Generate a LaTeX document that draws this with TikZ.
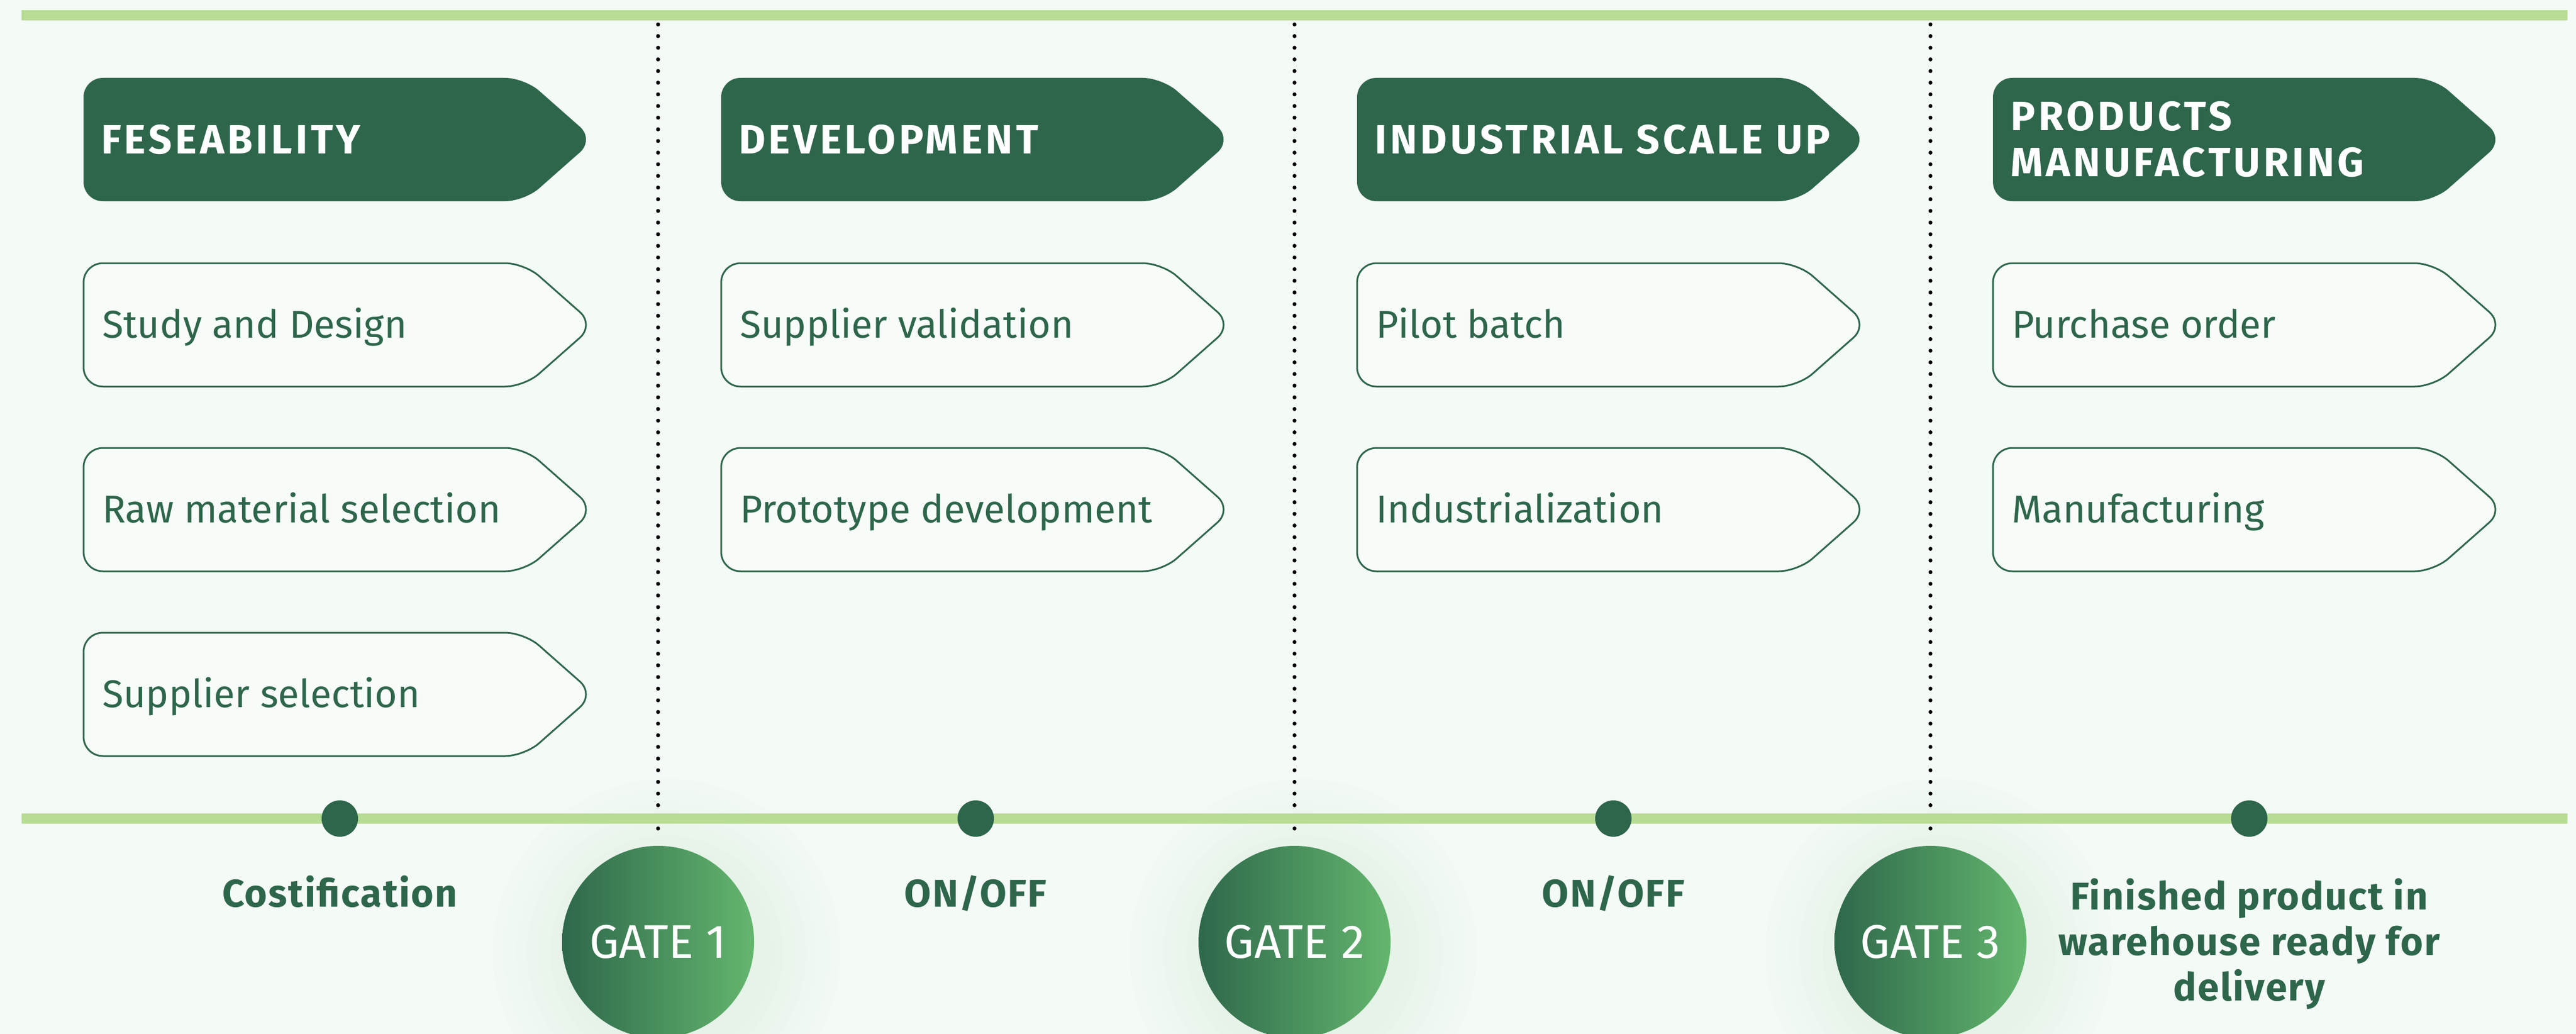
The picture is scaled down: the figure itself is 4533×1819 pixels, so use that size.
\documentclass[tikz,border=0pt]{standalone}
\usepackage{fontspec}
\setmainfont{Fira Sans}
\definecolor{bg}{RGB}{244,250,246}
\definecolor{dkgreen}{RGB}{46,102,75}
\definecolor{ltgreen}{RGB}{183,220,147}
\definecolor{boxfill}{RGB}{247,252,248}
\definecolor{gatedark}{RGB}{46,104,75}
\definecolor{gatelight}{RGB}{100,182,110}
\newcommand\tagshape[3]{\path[#1] (#2,#3+108.5) -- (#2,#3) -- ++(776,0) -- ++(123,108.5) -- ++(-123,108.5) -- ++(-776,0) -- cycle;}
\tikzset{
  hdrshape/.style={fill=dkgreen, rounded corners=34pt},
  itemshape/.style={draw=dkgreen, line width=3pt, fill=boxfill, rounded corners=34pt},
  hdrtext/.style={anchor=base west, inner sep=0pt, text=white, font=\fontsize{72}{81}\selectfont\bfseries\addfontfeature{LetterSpace=8}},
  itemtext/.style={anchor=base west, inner sep=0pt, text=dkgreen, font=\fontsize{68}{80}\selectfont},
  gate/.style={circle, inner sep=0pt, minimum size=338pt, left color=gatedark, right color=gatelight, text=white, font=\fontsize{83}{90}\selectfont},
  milestone/.style={circle, inner sep=0pt, minimum size=64pt, fill=dkgreen},
  mstext/.style={inner sep=0pt, text=dkgreen, align=center, font=\fontsize{68}{80}\selectfont\bfseries\addfontfeature{LetterSpace=3.2}},
  timeline/.style={draw=ltgreen, line width=18pt},
  gateline/.style={draw=black, line width=7pt, line cap=round, dash pattern=on 0pt off 20.5pt},
}
\begin{document}
\begin{tikzpicture}[x=1pt,y=-1pt]
\fill[bg] (0,0) rectangle (4533,1819);
\useasboundingbox (0,0) rectangle (4533,1819);
% halos
\foreach \gx in {1158,2278,3397}{
  \foreach \r in {185,205,225,245,265,285,305}{
    \fill[gatelight, opacity=0.012] (\gx+15,1675) circle (\r);
  }
}
% gates
\node[gate] (g1) at (1158,1657) {GATE 1};
\node[gate] (g2) at (2278,1657) {GATE 2};
\node[gate] (g3) at (3397,1657) {GATE 3};
% dotted separators
\coordinate (t1) at (1158,43);
\coordinate (t2) at (2278,43);
\coordinate (t3) at (3397,43);
\draw[gateline, shorten >=13pt] (t1) -- (g1.north);
\draw[gateline, shorten >=13pt] (t2) -- (g2.north);
\draw[gateline, shorten >=13pt] (t3) -- (g3.north);
% timelines
\coordinate (tl) at (38,27);
\coordinate (tr) at (4518,27);
\coordinate (bl) at (38,1440);
\coordinate (br) at (4518,1440);
\draw[timeline] (tl) -- (tr);
\draw[timeline] (bl) -- (br);
% milestones
\node[milestone] (m1) at (598,1440) {};
\node[milestone] (m2) at (1717,1440) {};
\node[milestone] (m3) at (2839,1440) {};
\node[milestone] (m4) at (3958,1440) {};
% column 1
\tagshape{hdrshape}{147}{137}
\tagshape{itemshape}{147}{463}
\tagshape{itemshape}{147}{788}
\tagshape{itemshape}{147}{1113}
% column 2
\tagshape{hdrshape}{1269}{137}
\tagshape{itemshape}{1269}{463}
\tagshape{itemshape}{1269}{788}
% column 3
\tagshape{hdrshape}{2388}{137}
\tagshape{itemshape}{2388}{463}
\tagshape{itemshape}{2388}{788}
% column 4
\tagshape{hdrshape}{3507}{137}
\tagshape{itemshape}{3507}{463}
\tagshape{itemshape}{3507}{788}
% texts
\node[hdrtext] (h1) at (178,270.5) {FESEABILITY};
\node[hdrtext] (h2) at (1300,270.5) {DEVELOPMENT};
\node[hdrtext] (h3) at (2419,270.5) {INDUSTRIAL SCALE UP};
\node[hdrtext, anchor=west, align=left] (h4) at (3538,245.5) {PRODUCTS\\MANUFACTURING};
\node[itemtext] (i11) at (180,594.5) {Study and Design};
\node[itemtext] (i12) at (180,919.5) {Raw material selection};
\node[itemtext] (i13) at (180,1244.5) {Supplier selection};
\node[itemtext] (i21) at (1302,594.5) {Supplier validation};
\node[itemtext] (i22) at (1302,919.5) {Prototype development};
\node[itemtext] (i31) at (2421,594.5) {Pilot batch};
\node[itemtext] (i32) at (2421,919.5) {Industrialization};
\node[itemtext] (i41) at (3540,594.5) {Purchase order};
\node[itemtext] (i42) at (3540,919.5) {Manufacturing};
% milestone labels
\node[mstext, anchor=base] (l1) at (598,1595) {Costification};
\node[mstext, anchor=base] (l2) at (1717,1595) {ON/OFF};
\node[mstext, anchor=base] (l3) at (2839,1595) {ON/OFF};
\node[mstext, anchor=north] (l4) at (3958,1545) {Finished product in\\warehouse ready for\\delivery};
\end{tikzpicture}
\end{document}
